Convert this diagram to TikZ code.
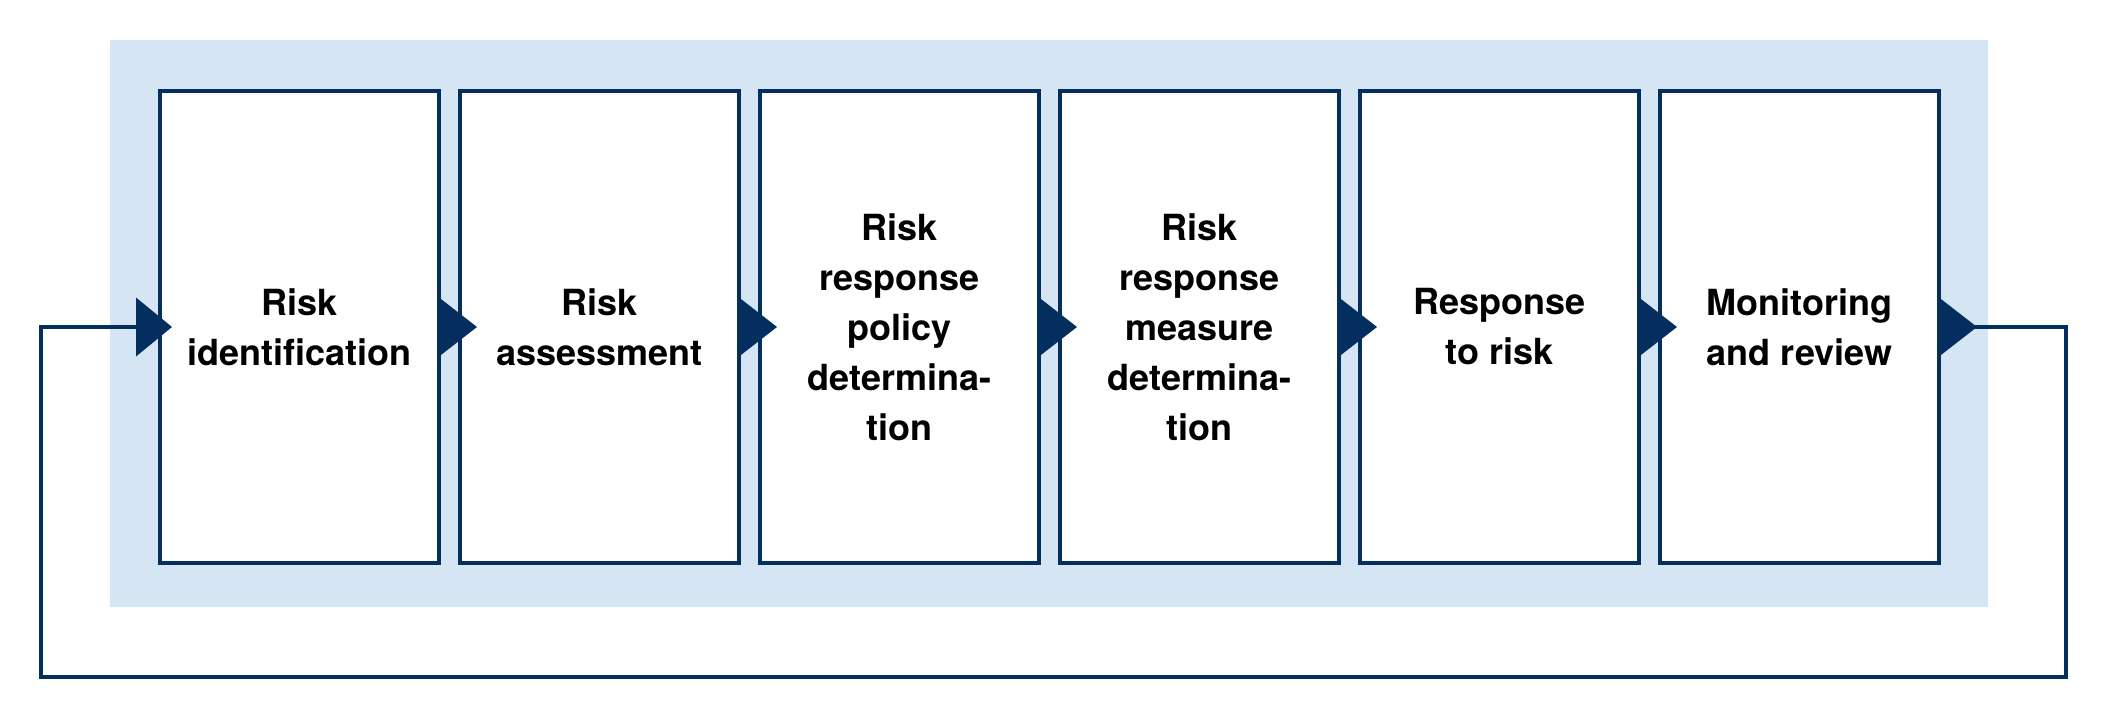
\documentclass[tikz,border=0pt]{standalone}
\usepackage{fontspec}
\setmainfont{TeX Gyre Heros}
\usetikzlibrary{calc}
\definecolor{navy}{RGB}{3,46,94}
\definecolor{bgblue}{RGB}{214,229,244}
\begin{document}
\begin{tikzpicture}[x=1pt,y=-1pt,
  stepbox/.style={draw=navy, line width=4pt, fill=white, minimum width=279pt, minimum height=472pt,
    inner sep=0pt, align=center, font=\fontsize{36pt}{50pt}\selectfont\bfseries, text=black},
  fb/.style={draw=navy, line width=3.5pt},
  tri/.style={fill=navy}]
\useasboundingbox (0,0) rectangle (2112,722);
\fill[bgblue] (110,40) rectangle (1988,607);
\node[stepbox] (b1) at (299.5,327) {Risk\\identification};
\node[stepbox] (b2) at (599.5,327) {Risk\\assessment};
\node[stepbox] (b3) at (899.5,327) {Risk\\response\\policy\\determina-\\tion};
\node[stepbox] (b4) at (1199.5,327) {Risk\\response\\measure\\determina-\\tion};
\node[stepbox] (b5) at (1499.5,327) {Response\\to risk};
\node[stepbox] (b6) at (1799.5,327) {Monitoring\\and review};
% arrows out of each box
\foreach \b in {b1,b2,b3,b4,b5,b6}{
  \fill[tri] ($(\b.east)+(-2,-29.5)$) -- ++(38,29.5) -- ++(-38,29.5) -- cycle;
}
% incoming arrow to first box
\coordinate (inA) at ($(b1.west)+(-22,0)$);
\fill[tri] ($(inA)+(0,-29.5)$) -- ++(36,29.5) -- ++(-36,29.5) -- cycle;
% feedback loop
\coordinate (outA) at ($(b6.east)+(30,0)$);
\coordinate (c1) at (2066,677);
\coordinate (c2) at (41,677);
\draw[fb] (outA) -| (c1) -- (c2) |- (inA);
\end{tikzpicture}
\end{document}
